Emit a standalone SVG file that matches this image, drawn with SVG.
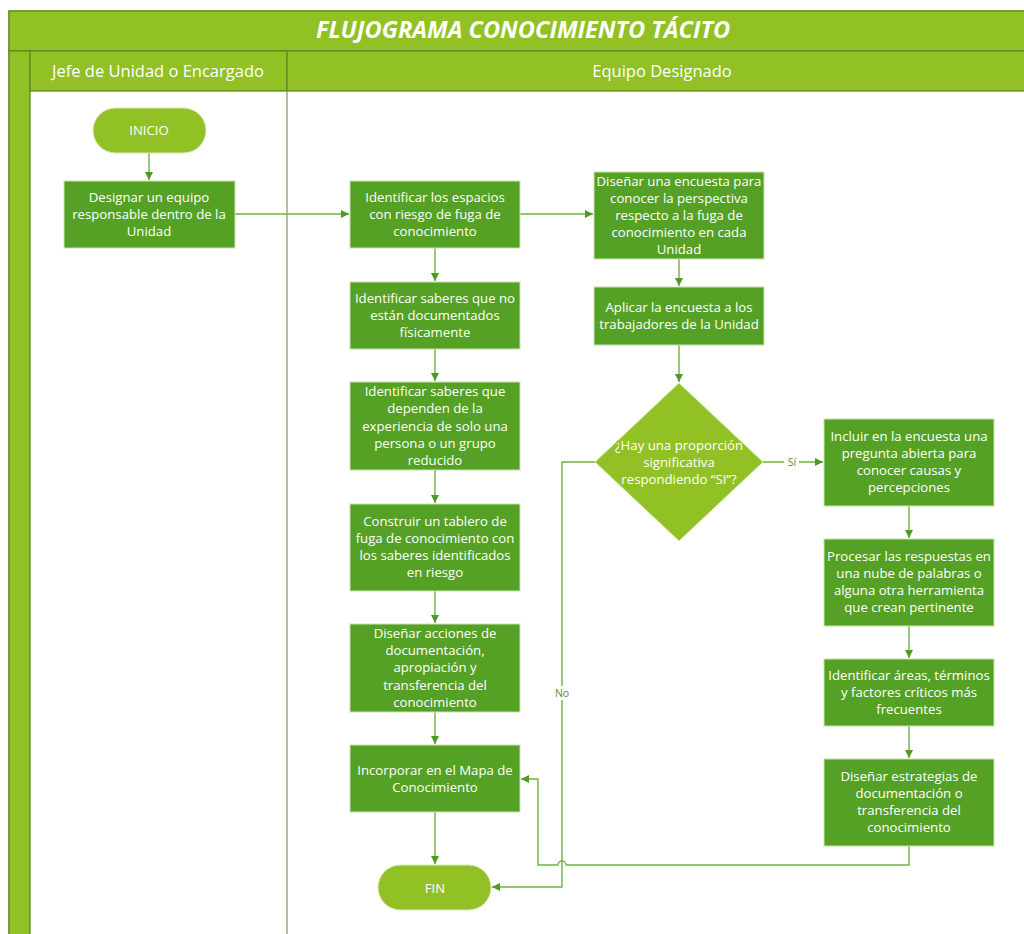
<svg xmlns="http://www.w3.org/2000/svg" width="1024" height="934" viewBox="0 0 1024 934">
<defs>
<style>
.hdr{fill:#92c125;stroke:#5f8a22;stroke-width:1.3}
.box{fill:#55a125;stroke:#c9e3b0;stroke-width:1}
.term{fill:#92c125;stroke:#d4eab5;stroke-width:1}
.t{font-family:"Open Sans","Noto Sans",sans-serif;font-size:13.2px;fill:#ffffff;text-anchor:middle}
.tt{font-family:"Open Sans","Noto Sans",sans-serif;font-size:23.5px;font-weight:bold;font-style:italic;fill:#ffffff;text-anchor:middle}
.lh{font-family:"Open Sans","Noto Sans",sans-serif;font-size:16.5px;fill:#ffffff;text-anchor:middle}
.lbl{font-family:"Open Sans","Noto Sans",sans-serif;font-size:10.5px;fill:#5e8a3c;text-anchor:middle}
.c{fill:none;stroke:#6db33f;stroke-width:1.4}
</style>
<marker id="ah" viewBox="0 0 10 10" refX="10" refY="5" markerWidth="8" markerHeight="8" markerUnits="userSpaceOnUse" orient="auto">
<path d="M0,0 L10,5 L0,10 z" fill="#4f9a23"/>
</marker>
</defs>
<rect x="0" y="0" width="1024" height="934" fill="#ffffff"/>
<g id="frame">
<rect x="9" y="11" width="1030" height="940" fill="#ffffff" stroke="#7a9a50" stroke-width="1.3"/>
<rect class="hdr" x="9" y="11" width="1030" height="40"/>
<rect class="hdr" x="9" y="51" width="21" height="900"/>
<rect class="hdr" x="30" y="51" width="257" height="40"/>
<rect class="hdr" x="287" y="51" width="752" height="40"/>
<line x1="287" y1="91" x2="287" y2="934" stroke="#8aa070" stroke-width="1.3"/>
<text class="tt" x="523" y="38">FLUJOGRAMA CONOCIMIENTO TÁCITO</text>
<text class="lh" x="158" y="77">Jefe de Unidad o Encargado</text>
<text class="lh" x="662" y="77">Equipo Designado</text>
</g>
<g id="connectors">
<path class="c" d="M149,153 V180" marker-end="url(#ah)"/>
<path class="c" d="M235,214 H349" marker-end="url(#ah)"/>
<path class="c" d="M520,214 H593" marker-end="url(#ah)"/>
<path class="c" d="M435,248 V281" marker-end="url(#ah)"/>
<path class="c" d="M435,349 V381" marker-end="url(#ah)"/>
<path class="c" d="M435,470 V503" marker-end="url(#ah)"/>
<path class="c" d="M435,591 V623" marker-end="url(#ah)"/>
<path class="c" d="M435,712 V744" marker-end="url(#ah)"/>
<path class="c" d="M435,812 V864" marker-end="url(#ah)"/>
<path class="c" d="M679,259 V286" marker-end="url(#ah)"/>
<path class="c" d="M679,345 V382" marker-end="url(#ah)"/>
<path class="c" d="M763,462 H823" marker-end="url(#ah)"/>
<path class="c" d="M909,506 V538" marker-end="url(#ah)"/>
<path class="c" d="M909,626 V658" marker-end="url(#ah)"/>
<path class="c" d="M909,726 V758" marker-end="url(#ah)"/>
<path class="c" d="M595,462 H562 V887 H492" marker-end="url(#ah)"/>
<path class="c" d="M909,846 V865 H566 A4,4 0 0 0 558,865 H538 V779 H521" marker-end="url(#ah)"/>
<rect x="784" y="455" width="15" height="13" fill="#ffffff"/>
<text class="lbl" x="792" y="466">Sí</text>
<rect x="553" y="686" width="18" height="14" fill="#ffffff"/>
<text class="lbl" x="562" y="697">No</text>
</g>
<g id="inicio">
<rect class="term" x="93" y="108" width="113" height="45" rx="22.5"/>
<text class="t" x="149" y="135">INICIO</text>
</g>
<g id="designar">
<rect class="box" x="64" y="181" width="171" height="67"/>
<text class="t" x="149" y="202">Designar un equipo</text>
<text class="t" x="149" y="219">responsable dentro de la</text>
<text class="t" x="149" y="236">Unidad</text>
</g>
<g id="ident-espacios">
<rect class="box" x="350" y="181" width="170" height="67"/>
<text class="t" x="435" y="202">Identificar los espacios</text>
<text class="t" x="435" y="219">con riesgo de fuga de</text>
<text class="t" x="435" y="236">conocimiento</text>
</g>
<g id="ident-saberes">
<rect class="box" x="350" y="282" width="170" height="67"/>
<text class="t" x="435" y="303">Identificar saberes que no</text>
<text class="t" x="435" y="320">están documentados</text>
<text class="t" x="435" y="337">físicamente</text>
</g>
<g id="ident-dependen">
<rect class="box" x="350" y="382" width="170" height="88"/>
<text class="t" x="435" y="396">Identificar saberes que</text>
<text class="t" x="435" y="413">dependen de la</text>
<text class="t" x="435" y="431">experiencia de solo una</text>
<text class="t" x="435" y="448">persona o un grupo</text>
<text class="t" x="435" y="465">reducido</text>
</g>
<g id="construir">
<rect class="box" x="350" y="504" width="170" height="87"/>
<text class="t" x="435" y="526">Construir un tablero de</text>
<text class="t" x="435" y="543">fuga de conocimiento con</text>
<text class="t" x="435" y="560">los saberes identificados</text>
<text class="t" x="435" y="577">en riesgo</text>
</g>
<g id="disenar-acciones">
<rect class="box" x="350" y="624" width="170" height="88"/>
<text class="t" x="435" y="638">Diseñar acciones de</text>
<text class="t" x="435" y="655">documentación,</text>
<text class="t" x="435" y="672">apropiación y</text>
<text class="t" x="435" y="690">transferencia del</text>
<text class="t" x="435" y="707">conocimiento</text>
</g>
<g id="incorporar">
<rect class="box" x="350" y="745" width="170" height="67"/>
<text class="t" x="435" y="775">Incorporar en el Mapa de</text>
<text class="t" x="435" y="792">Conocimiento</text>
</g>
<g id="fin">
<rect class="term" x="378" y="865" width="113" height="45" rx="22.5"/>
<text class="t" x="435" y="893">FIN</text>
</g>
<g id="disenar-encuesta">
<rect class="box" x="594" y="172" width="170" height="87"/>
<text class="t" x="679" y="186">Diseñar una encuesta para</text>
<text class="t" x="679" y="203">conocer la perspectiva</text>
<text class="t" x="679" y="220">respecto a la fuga de</text>
<text class="t" x="679" y="237">conocimiento en cada</text>
<text class="t" x="679" y="254">Unidad</text>
</g>
<g id="aplicar">
<rect class="box" x="594" y="287" width="170" height="58"/>
<text class="t" x="679" y="312">Aplicar la encuesta a los</text>
<text class="t" x="679" y="329">trabajadores de la Unidad</text>
</g>
<g id="decision">
<polygon points="679,383 763,462 679,541 595,462" fill="#92c125" stroke="#d4eab5" stroke-width="1"/>
<text class="t" x="679" y="450">¿Hay una proporción</text>
<text class="t" x="679" y="467">significativa</text>
<text class="t" x="679" y="484">respondiendo “SI”?</text>
</g>
<g id="incluir">
<rect class="box" x="824" y="419" width="170" height="87"/>
<text class="t" x="909" y="441">Incluir en la encuesta una</text>
<text class="t" x="909" y="458">pregunta abierta para</text>
<text class="t" x="909" y="475">conocer causas y</text>
<text class="t" x="909" y="492">percepciones</text>
</g>
<g id="procesar">
<rect class="box" x="824" y="539" width="170" height="87"/>
<text class="t" x="909" y="561">Procesar las respuestas en</text>
<text class="t" x="909" y="578">una nube de palabras o</text>
<text class="t" x="909" y="595">alguna otra herramienta</text>
<text class="t" x="909" y="612">que crean pertinente</text>
</g>
<g id="ident-areas">
<rect class="box" x="824" y="659" width="170" height="67"/>
<text class="t" x="909" y="680">Identificar áreas, términos</text>
<text class="t" x="909" y="697">y factores críticos más</text>
<text class="t" x="909" y="714">frecuentes</text>
</g>
<g id="disenar-estrategias">
<rect class="box" x="824" y="759" width="170" height="87"/>
<text class="t" x="909" y="781">Diseñar estrategias de</text>
<text class="t" x="909" y="798">documentación o</text>
<text class="t" x="909" y="815">transferencia del</text>
<text class="t" x="909" y="832">conocimiento</text>
</g>
</svg>
